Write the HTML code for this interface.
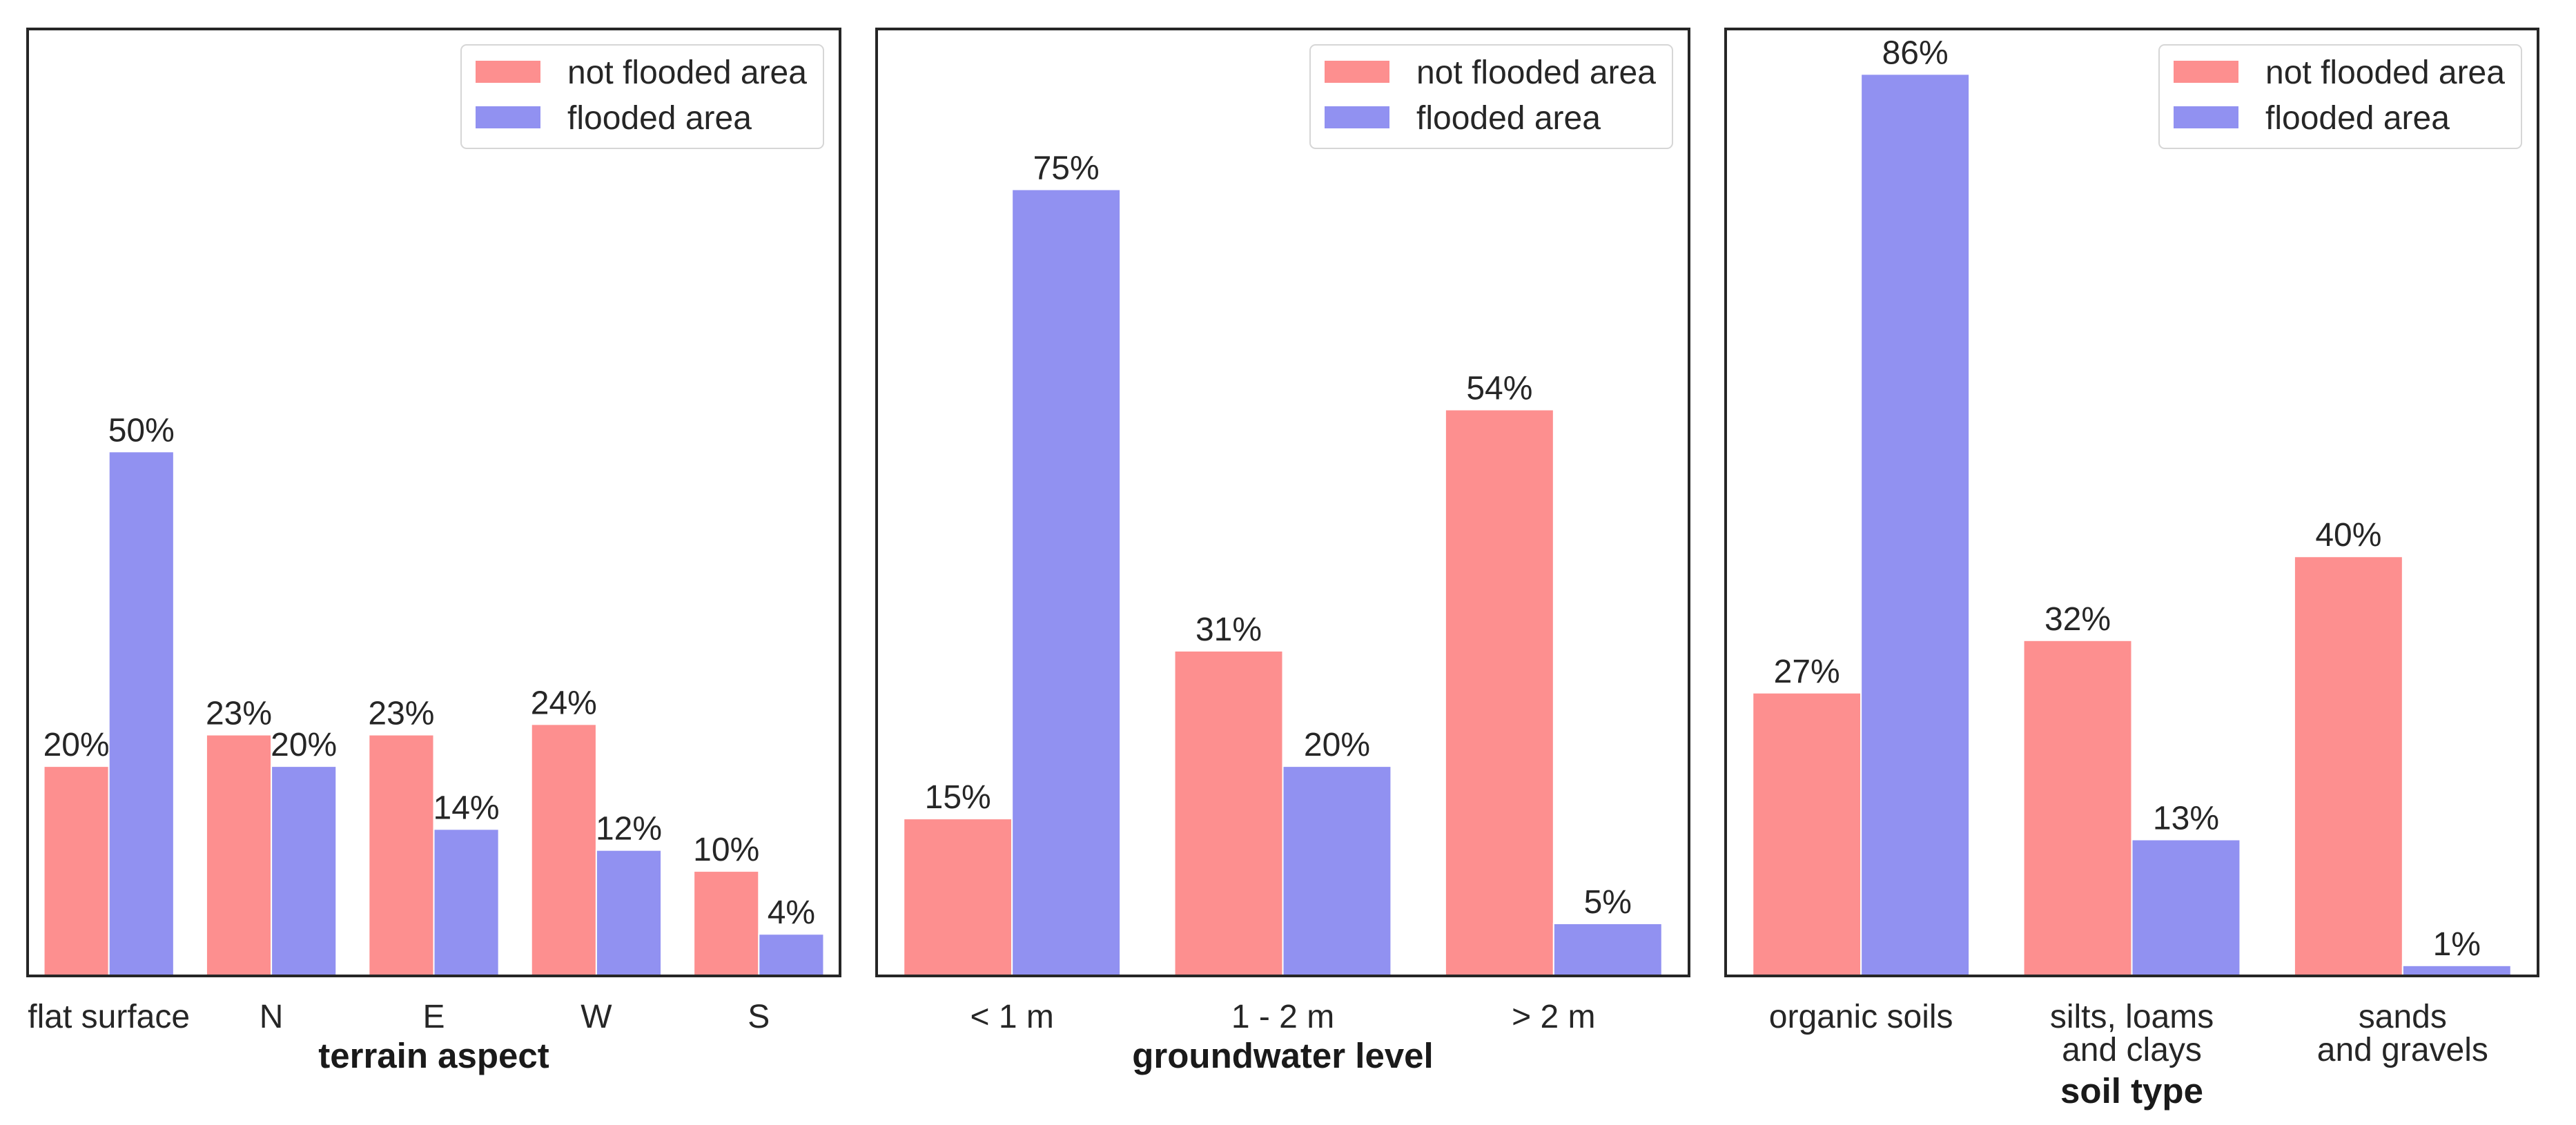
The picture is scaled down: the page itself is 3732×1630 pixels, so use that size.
<!DOCTYPE html>
<html><head><meta charset="utf-8"><style>
html,body{margin:0;padding:0;background:#fff;}
svg{display:block;font-family:"Liberation Sans",sans-serif;}
</style></head><body>
<svg id="chart" width="3732" height="1630" viewBox="0 0 3732 1630" xmlns="http://www.w3.org/2000/svg"></svg>
<script>
const cats1 = ["flat surface","N","E","W","S"];
const notFlooded1 = [20,23,23,24,10];
const flooded1 = [50,20,14,12,4];
const cats2 = ["< 1 m","1 - 2 m","> 2 m"];
const notFlooded2 = [15,31,54];
const flooded2 = [75,20,5];
const cats3 = [["organic soils"],["silts, loams","and clays"],["sands","and gravels"]];
const notFlooded3 = [27,32,40];
const flooded3 = [86,13,1];
const titles = ["terrain aspect","groundwater level","soil type"];
const yMax = 90.3;

const NS="http://www.w3.org/2000/svg";
const svg=document.getElementById('chart');
function el(tag,attrs,parent){const e=document.createElementNS(NS,tag);for(const k in attrs)e.setAttribute(k,attrs[k]);(parent||svg).appendChild(e);return e;}

const panels=[
 {left:40,cats:cats1.map(c=>[c]),nf:notFlooded1,f:flooded1,title:titles[0],name:'terrain-aspect'},
 {left:1270,cats:cats2.map(c=>[c]),nf:notFlooded2,f:flooded2,title:titles[1],name:'groundwater-level'},
 {left:2500,cats:cats3,nf:notFlooded3,f:flooded3,title:titles[2],name:'soil-type'}
];
const W=1177, axTop=42, axBottom=1414, H=axBottom-axTop;
const RED='#fd8f8f', BLUE='#9191f1';
function yScale(v){return axBottom - v/yMax*H;}

panels.forEach((p)=>{
  const g=el('g',{});
  
  
  const n=p.cats.length, step=W/n, bw=step*0.4;
  function xCenter(i){return p.left+step*(i+0.5);}
  p.cats.forEach((c,i)=>{
    const cx=xCenter(i);
    [[p.nf[i],RED,cx-bw,'not-flooded'],[p.f[i],BLUE,cx,'flooded']].forEach(([v,col,x,nm])=>{
      const y=yScale(v);
      const r=el('rect',{x:x,y:y,width:bw,height:axBottom-y,fill:col,stroke:'#fff','stroke-width':2},g);
      
      
      const t=el('text',{x:x+bw/2,y:y-15,'text-anchor':'middle','font-size':48,fill:'#262626'},g);
      t.textContent=v+'%';
      
      
    });
    c.forEach((line,li)=>{
      const t=el('text',{x:cx,y:1489+li*48,'text-anchor':'middle','font-size':48,fill:'#262626'},g);
      t.textContent=line;
      
      
    });
  });
  const frame=el('rect',{x:p.left,y:axTop,width:W,height:H,fill:'none',stroke:'#262626','stroke-width':4},g);
  
  
  const maxLines=Math.max(...p.cats.map(c=>c.length));
  const tt=el('text',{x:p.left+W/2,y:maxLines>1?1598:1547,'text-anchor':'middle','font-size':51,'font-weight':'bold',fill:'#1a1a1a'},g);
  tt.textContent=p.title;
  
  
  const lg=el('g',{},g);
  
  
  const lx=p.left+W-24-525, ly=65;
  el('rect',{x:lx,y:ly,width:525,height:150,rx:8,fill:'#fff',stroke:'#d6d6d6','stroke-width':2},lg);
  [[RED,'not flooded area',88],[BLUE,'flooded area',154]].forEach(([col,lab,yy])=>{
    const e=el('g',{},lg);
    
    
    el('rect',{x:lx+21,y:yy,width:94,height:32,fill:col},e);
    const t=el('text',{x:lx+154,y:yy+33,'font-size':48,fill:'#262626'},e);
    t.textContent=lab;
  });
});
</script>
</body></html>
